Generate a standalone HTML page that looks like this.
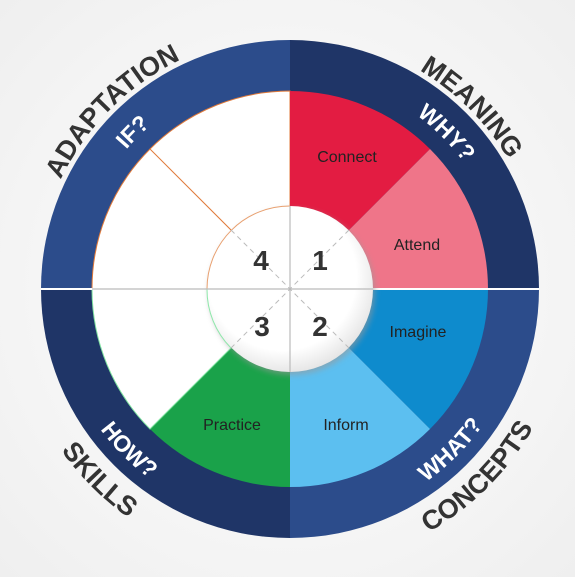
<!DOCTYPE html>
<html><head><meta charset="utf-8"><style>
html,body{margin:0;padding:0;background:#f4f4f4;}
svg{display:block;}
</style></head><body>
<svg width="575" height="577" viewBox="0 0 575 577" xmlns="http://www.w3.org/2000/svg" font-family="Liberation Sans, sans-serif">
<defs>
<radialGradient id="bg" cx="50%" cy="50%" r="70%"><stop offset="0" stop-color="#ffffff"/><stop offset="1" stop-color="#efefef"/></radialGradient>
<radialGradient id="inner" cx="45%" cy="42%" r="60%"><stop offset="0.75" stop-color="#ffffff"/><stop offset="1" stop-color="#e4e4e4"/></radialGradient>
<filter id="sh" x="-30%" y="-30%" width="160%" height="160%"><feGaussianBlur stdDeviation="3"/></filter>
<path id="pTL" d="M36,289 A254,254 0 0 1 290,35"/>
<path id="pTR" d="M290,35 A254,254 0 0 1 544,289"/>
<path id="pBL" d="M10,289 A280,280 0 0 0 290,569"/>
<path id="pBR" d="M290,569 A280,280 0 0 0 570,289"/>
<path id="iTL" d="M75,289 A215,215 0 0 1 290,74"/>
<path id="iTR" d="M290,74 A215,215 0 0 1 505,289"/>
<path id="iBL" d="M54,289 A236,236 0 0 0 290,525"/>
<path id="iBR" d="M290,525 A236,236 0 0 0 526,289"/>
</defs>
<rect width="575" height="577" fill="url(#bg)"/>
<path d="M290,289 L41,289 A249,249 0 0 1 290,40 Z" fill="#2c4c8b"/>
<path d="M290,289 L290,40 A249,249 0 0 1 539,289 Z" fill="#1f3567"/>
<path d="M290,289 L539,289 A249,249 0 0 1 290,538 Z" fill="#2c4c8b"/>
<path d="M290,289 L290,538 A249,249 0 0 1 41,289 Z" fill="#1f3567"/>
<path d="M290,289 L92,289 A198,198 0 0 1 290,91 Z" fill="#ffffff" stroke="#e07a3a" stroke-width="1"/>
<line x1="290" y1="289" x2="150" y2="149" stroke="#e07a3a" stroke-width="1"/>
<path d="M290,289 L290,91 A198,198 0 0 1 430,149 Z" fill="#e31c42"/>
<path d="M290,289 L430,149 A198,198 0 0 1 488,289 Z" fill="#ef7589"/>
<path d="M290,289 L488,289 A198,198 0 0 1 430,429 Z" fill="#0e8bcd"/>
<path d="M290,289 L430,429 A198,198 0 0 1 290,487 Z" fill="#5cbff0"/>
<path d="M290,289 L290,487 A198,198 0 0 1 150,429 Z" fill="#1aa24a"/>
<path d="M290,289 L150,429 A198,198 0 0 1 92,289 Z" fill="#ffffff" stroke="#7fe3a0" stroke-width="1"/>
<line x1="41" y1="289" x2="539" y2="289" stroke="#ffffff" stroke-width="2"/>
<circle cx="292" cy="292" r="83" fill="#9a9a9a" opacity="0.6" filter="url(#sh)"/>
<circle cx="290" cy="289" r="83" fill="url(#inner)"/>
<path d="M207,289 A83,83 0 0 1 290,206" fill="none" stroke="#e8a070" stroke-width="1"/>
<path d="M207,289 A83,83 0 0 0 231,348" fill="none" stroke="#8ee8aa" stroke-width="1"/>
<line x1="92" y1="289" x2="373" y2="289" stroke="#bbbbbb" stroke-width="1.2"/>
<line x1="290" y1="206" x2="290" y2="372" stroke="#bbbbbb" stroke-width="1.2"/>
<line x1="231" y1="230" x2="349" y2="348" stroke="#bbbbbb" stroke-width="1" stroke-dasharray="5,4"/>
<line x1="349" y1="230" x2="231" y2="348" stroke="#bbbbbb" stroke-width="1" stroke-dasharray="5,4"/>
<g font-weight="bold" font-size="28" fill="#333" text-anchor="middle">
<text x="261" y="270">4</text><text x="320" y="270">1</text>
<text x="262" y="336">3</text><text x="320" y="336">2</text>
</g>
<g font-size="16" fill="#222" text-anchor="middle">
<text x="347" y="162">Connect</text>
<text x="417" y="250">Attend</text>
<text x="418" y="337">Imagine</text>
<text x="346" y="430">Inform</text>
<text x="232" y="430">Practice</text>
</g>
<g font-weight="bold" font-size="27" fill="#333" text-anchor="middle">
<text><textPath href="#pTL" startOffset="50%">ADAPTATION</textPath></text>
<text><textPath href="#pTR" startOffset="50%">MEANING</textPath></text>
<text><textPath href="#pBL" startOffset="50%">SKILLS</textPath></text>
<text><textPath href="#pBR" startOffset="50%">CONCEPTS</textPath></text>
</g>
<g font-weight="bold" font-size="23" fill="#ffffff" text-anchor="middle">
<text><textPath href="#iTL" startOffset="50%">IF?</textPath></text>
<text><textPath href="#iTR" startOffset="50%">WHY?</textPath></text>
<text><textPath href="#iBL" startOffset="50%">HOW?</textPath></text>
<text><textPath href="#iBR" startOffset="50%">WHAT?</textPath></text>
</g>
</svg>
</body></html>
